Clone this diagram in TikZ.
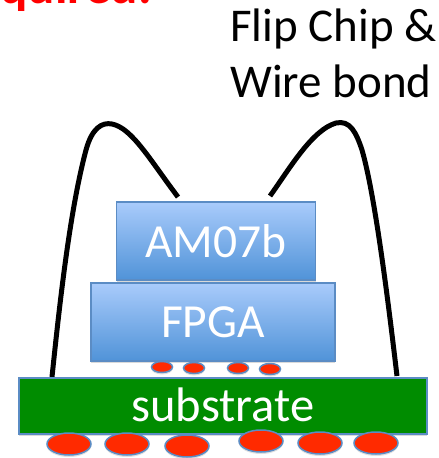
\documentclass[tikz,border=0pt]{standalone}
\usepackage{fontspec}
\setmainfont{Carlito}
\usetikzlibrary{shadows,calc,shapes.geometric}
\definecolor{boxline}{HTML}{5B8CC4}
\definecolor{boxtop}{HTML}{A9CBFB}
\definecolor{boxbot}{HTML}{5093D8}
\definecolor{subgreen}{HTML}{008C00}
\definecolor{bump}{HTML}{FF2A00}
\tikzset{
  x=1pt,y=-1pt,
  chip/.style={draw=boxline,line width=1.5pt,top color=boxtop,bottom color=boxbot,
    text=white,font=\fontsize{47.5}{47.5}\selectfont,inner sep=0pt,
    drop shadow={shadow xshift=0pt,shadow yshift=-2pt,opacity=.3}},
  subbox/.style={draw=boxline,line width=1.5pt,fill=subgreen,text=white,
    font=\fontsize{48.5}{48.5}\selectfont,inner sep=0pt,text height=31pt,
    drop shadow={shadow xshift=0pt,shadow yshift=-2pt,opacity=.3}},
  bumpy/.style={draw=boxline,line width=1.5pt,fill=bump,ellipse,inner sep=0pt,
    drop shadow={shadow xshift=0pt,shadow yshift=-2pt,opacity=.25}},
  wire/.style={draw=black,line width=5pt,line cap=butt},
  label/.style={font=\fontsize{47}{47}\selectfont,inner sep=0pt,anchor=base west}
}
\begin{document}
\begin{tikzpicture}
\useasboundingbox (0,0) rectangle (439,458);
\clip (0,0) rectangle (439,458);
% cropped red text
\node[font=\fontsize{51}{51}\bfseries\selectfont,text=red,inner sep=0pt,anchor=base east] (red) at (152,3) {quired.};
% text
\node[label] (t1) at (230,41) {Flip Chip \&};
\node[label] (t2) at (230,97) {Wire bond};
% wires
\coordinate (wl) at (52,377);
\coordinate (wr) at (397,376);
\coordinate (wla) at (178,197);
\coordinate (wra) at (270,196);
\draw[wire] (wl) .. controls (60,300) and (70,210) .. (86,150) .. controls (92,128) and (102,122) .. (112,124) .. controls (132,128) and (150,160) .. (wla);
\draw[wire] (wra) .. controls (290,168) and (312,130) .. (336,123) .. controls (350,120) and (356,132) .. (362,150) .. controls (375,195) and (388,300) .. (wr);
% boxes
\node[chip,minimum width=199pt,minimum height=78pt,text height=33pt] (am) at (216,241) {AM07b};
\node[chip,minimum width=244pt,minimum height=78pt] (fpga) at (213,322) {FPGA};
\node[subbox,minimum width=408pt,minimum height=56pt] (sub) at (223,406) {substrate};
% small bumps
\foreach \n/\x/\y in {a/162/367,b/194/368,c/238/368,d/270/369}
  \node[bumpy,minimum width=21pt,minimum height=11pt] (s\n) at (\x,\y) {};
% large bumps
\foreach \n/\x/\y in {a/69/444,b/127/444,c/187/446,d/261/441,e/320/443,f/376/443}
  \node[bumpy,minimum width=44pt,minimum height=22pt] (b\n) at (\x,\y) {};
\end{tikzpicture}
\end{document}
